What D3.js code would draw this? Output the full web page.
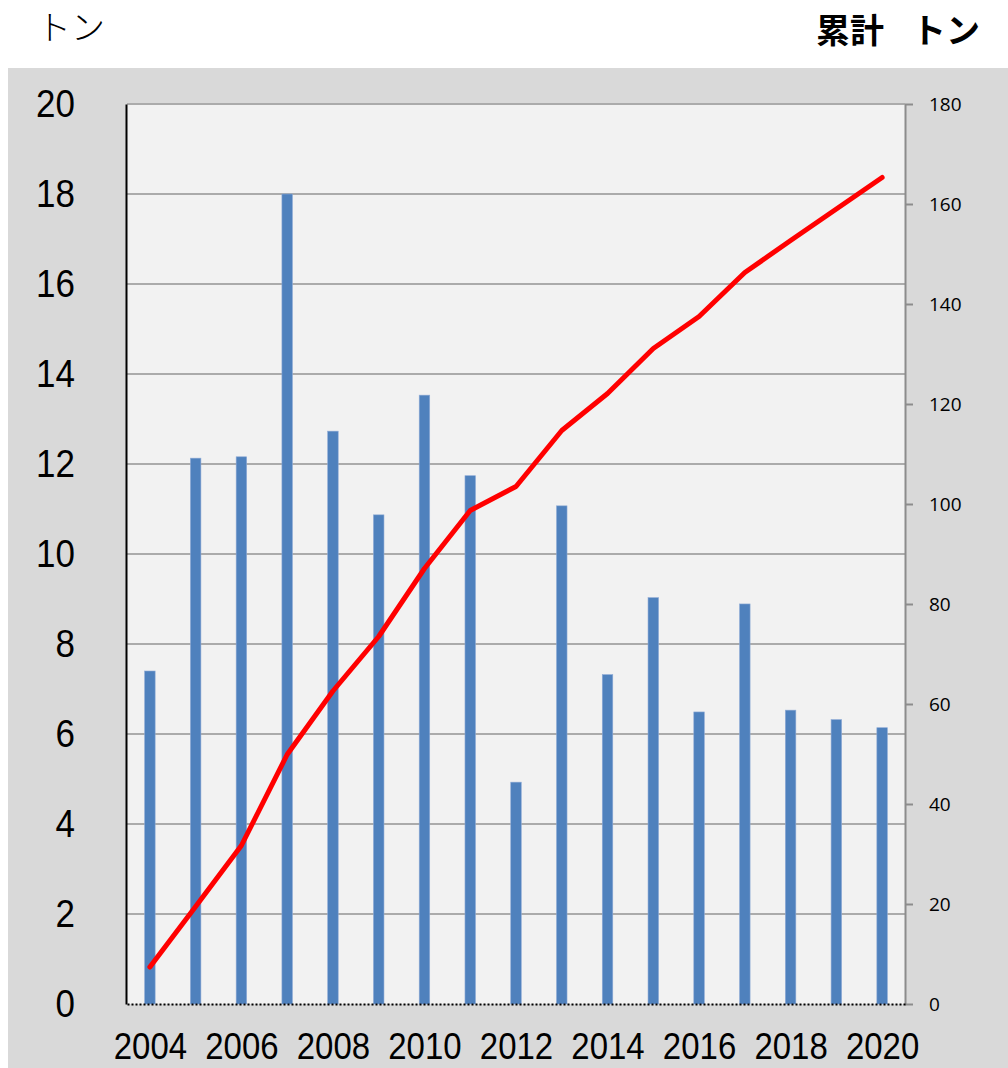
<!DOCTYPE html>
<html><head><meta charset="utf-8">
<script src="https://cdn.jsdelivr.net/npm/d3@7"></script>
<style>html,body{margin:0;padding:0;background:#fff;}svg{display:block;}</style>
</head><body>
<script>
const years = ["2004","2005","2006","2007","2008","2009","2010","2011","2012","2013","2014","2015","2016","2017","2018","2019","2020"];
const annual = [7.4,12.13,12.16,18.0,12.73,10.87,13.53,11.74,4.93,11.07,7.32,9.03,6.49,8.89,6.53,6.32,6.14];
const cumulative = [7.4,19.5,31.7,49.9,62.6,73.5,87.1,98.7,103.5,114.7,122.1,131.1,137.5,146.3,152.7,159.0,165.3];
const leftTicks = [0,2,4,6,8,10,12,14,16,18,20];
const rightTicks = [0,20,40,60,80,100,120,140,160,180];
const xLabels = ["2004","2006","2008","2010","2012","2014","2016","2018","2020"];
const leftTitle = "トン";
const rightTitle = ["累計","トン"];

const W = 1008, H = 1068;
const plot = {l:127, r:905, t:104, b:1004};
const svg = d3.select("body").append("svg").attr("width",W).attr("height",H);

svg.append("rect").attr("x",8).attr("y",68).attr("width",W-8).attr("height",H-68).attr("fill","#d9d9d9");
svg.append("rect").attr("x",plot.l).attr("y",plot.t).attr("width",plot.r-plot.l).attr("height",plot.b-plot.t).attr("fill","#f2f2f2");

const x = d3.scalePoint().domain(years).range([plot.l,plot.r]).padding(0.5);
const yL = d3.scaleLinear().domain([0,20]).range([plot.b,plot.t]);
const yR = d3.scaleLinear().domain([0,180]).range([plot.b,plot.t]);
const barW = x.step()*0.23;

// gridlines
svg.append("g").selectAll("line").data(leftTicks.filter(d=>d>0)).join("line")
  .attr("x1",plot.l).attr("x2",plot.r).attr("y1",d=>yL(d)).attr("y2",d=>yL(d))
  .attr("stroke","#ababab").attr("stroke-width",2);

// bars
svg.append("g").selectAll("rect").data(annual).join("rect")
  .attr("x",(d,i)=>x(years[i])-barW/2).attr("width",barW)
  .attr("y",d=>yL(d)).attr("height",d=>yL(0)-yL(d))
  .attr("fill","#4f81bd").attr("stroke","#8fabd6").attr("stroke-width",0.6);

// cumulative line
const line = d3.line().x((d,i)=>x(years[i])).y(d=>yR(d));
svg.append("path").datum(cumulative).attr("d",line)
  .attr("fill","none").attr("stroke","#ff0000").attr("stroke-width",5)
  .attr("stroke-linejoin","round").attr("stroke-linecap","round");

// left axis
const gL = svg.append("g").attr("transform",`translate(${plot.l-1},0)`)
  .call(d3.axisLeft(yL).tickValues(leftTicks).tickSize(0).tickPadding(51));
gL.select(".domain").attr("stroke","#000").attr("stroke-width",2);
gL.selectAll("text").attr("font-family","Liberation Sans, Arial, sans-serif").attr("font-size",35).attr("fill","#000")
  .attr("transform","scale(1,1.12)");

// right axis
const gR = svg.append("g").attr("transform",`translate(${plot.r},0)`)
  .call(d3.axisRight(yR).tickValues(rightTicks).tickSize(8).tickPadding(16).tickSizeOuter(0));
gR.select(".domain").attr("stroke","#8c8c8c").attr("stroke-width",2);
gR.selectAll(".tick line").attr("stroke","#8c8c8c").attr("stroke-width",2);
gR.selectAll("text").attr("font-family","Open Sans, sans-serif").attr("font-size",19).attr("fill","#000");

// bottom axis
const gB = svg.append("g").attr("transform",`translate(0,${plot.b})`)
  .call(d3.axisBottom(x).tickValues(xLabels).tickSize(0).tickPadding(26));
gB.select(".domain").attr("stroke","#000").attr("stroke-width",2).attr("stroke-dasharray","2,2");
gB.selectAll("text").attr("font-family","Liberation Sans, Arial, sans-serif").attr("font-size",33).attr("fill","#000")
  .attr("transform","scale(1,1.12)");

// titles
svg.append("text").attr("x",37).attr("y",40).text(leftTitle)
  .attr("font-family","Noto Sans CJK JP").attr("font-size",34).attr("font-weight",300).attr("fill","#000");
const rt = svg.append("text").attr("y",43)
  .attr("font-family","Noto Sans CJK JP").attr("font-size",34).attr("font-weight",700).attr("fill","#000");
rt.append("tspan").attr("x",816).text(rightTitle[0]);
rt.append("tspan").attr("x",912).text(rightTitle[1]);
</script>
</body></html>
